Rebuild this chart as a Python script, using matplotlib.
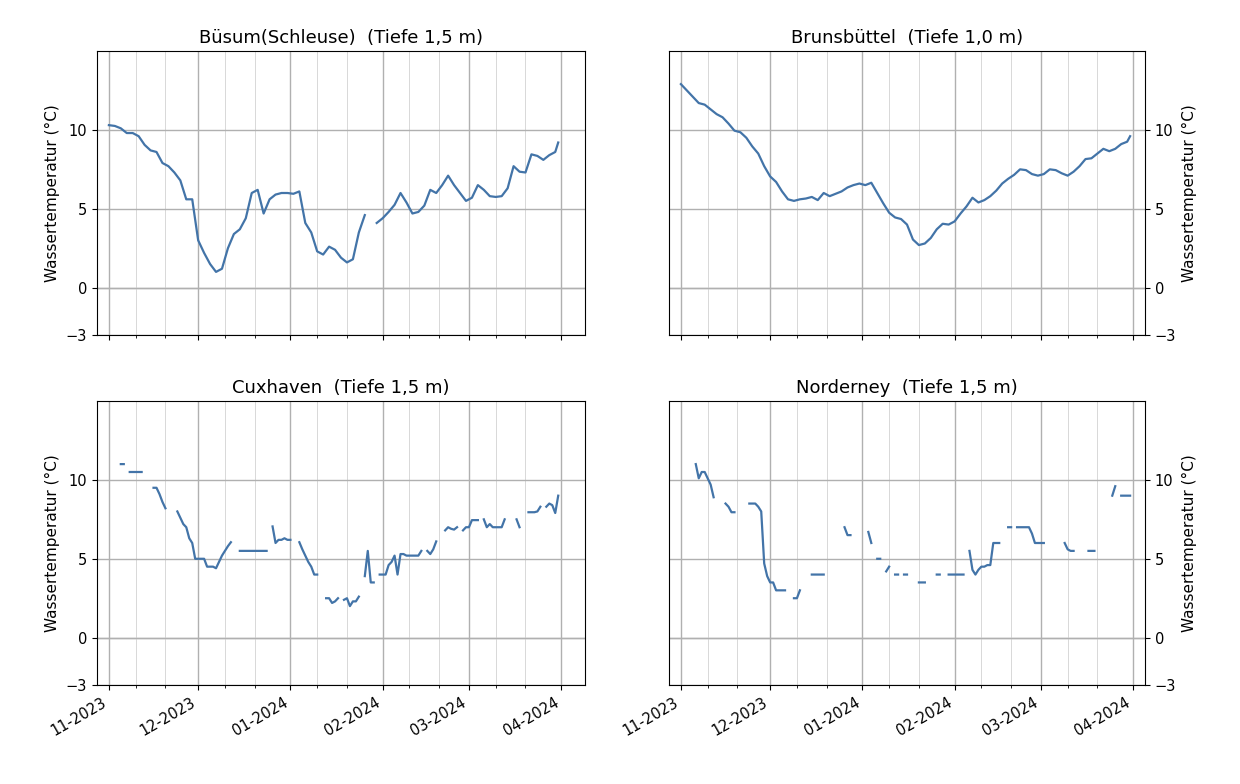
import numpy as np
import pandas as pd
import matplotlib
matplotlib.use("Agg")
import matplotlib.pyplot as plt
import matplotlib.dates as mdates

nan = np.nan
start = pd.Timestamp("2023-11-01")
days_2 = list(range(0, 151, 2)) + [151]
days_1 = list(range(0, 152))

buesum = [10.3, 10.25, 10.1, 9.8, 9.8, 9.6, 9.05, 8.7, 8.6, 7.9, 7.7, 7.3, 6.8, 5.6, 5.6,
          3.0, 2.2, 1.5, 1.0, 1.2, 2.5, 3.4, 3.7, 4.4, 6.0, 6.2, 4.7, 5.6, 5.9, 6.0, 6.0,
          5.95, 6.1, 4.1, 3.5, 2.3, 2.1, 2.6, 2.4, 1.9, 1.6, 1.8, 3.5, 4.6, nan, 4.1, 4.4,
          4.8, 5.25, 6.0, 5.4, 4.7, 4.8, 5.2, 6.2, 6.0, 6.5, 7.1, 6.5, 6.0, 5.5, 5.7, 6.5,
          6.2, 5.8, 5.75, 5.8, 6.3, 7.7, 7.35, 7.3, 8.45, 8.35, 8.1, 8.4, 8.6, 9.2]

brunsbuettel = [12.9, 12.5, 12.1, 11.7, 11.6, 11.3, 11.0, 10.8, 10.4, 9.95, 9.85, 9.5, 8.95,
                8.5, 7.7, 7.05, 6.7, 6.1, 5.6, 5.5, 5.6, 5.65, 5.75, 5.55, 6.0, 5.8, 5.95,
                6.1, 6.35, 6.5, 6.6, 6.5, 6.65, 6.0, 5.35, 4.75, 4.45, 4.35, 4.0, 3.05, 2.7,
                2.8, 3.15, 3.7, 4.05, 4.0, 4.2, 4.7, 5.15, 5.7, 5.4, 5.55, 5.8, 6.15, 6.6,
                6.9, 7.15, 7.5, 7.45, 7.2, 7.1, 7.2, 7.5, 7.45, 7.25, 7.1, 7.35, 7.7, 8.15,
                8.2, 8.5, 8.8, 8.65, 8.8, 9.1, 9.25, 9.6]

cuxhaven = [nan, nan, nan, nan, 11.0, 11.0, nan, 10.5, 10.5, 10.5, 10.5, 10.5, nan, nan, nan,
            9.5, 9.5, 9.1, 8.6, 8.2, nan, nan, nan, 8.0, 7.6, 7.2, 7.0, 6.3, 6.0, 5.0,
            5.0, 5.0, 5.0, 4.5, 4.5, 4.5, 4.4, 4.8, 5.2, 5.5, 5.8, 6.05, nan, nan, 5.5,
            5.5, 5.5, 5.5, 5.5, 5.5, 5.5, 5.5, 5.5, 5.5, nan, 7.05, 6.0, 6.2, 6.2, 6.3,
            6.2, 6.2, nan, nan, 6.05, 5.6, 5.2, 4.8, 4.5, 4.0, 4.0, nan, nan, 2.5, 2.5,
            2.2, 2.3, 2.5, nan, 2.4, 2.5, 2.0, 2.3, 2.3, 2.6, nan, 3.9, 5.5, 3.5, 3.5,
            nan, 4.0, 4.0, 4.0, 4.6, 4.8, 5.2, 4.0, 5.3, 5.3, 5.2, 5.2, 5.2, 5.2, 5.2,
            5.5, nan, 5.5, 5.3, 5.6, 6.1, nan, nan, 6.8, 7.0, 6.9, 6.85, 7.0, nan, 6.8,
            7.0, 7.0, 7.45, 7.45, 7.45, nan, 7.5, 7.0, 7.2, 7.0, 7.0, 7.0, 7.0, 7.5, nan,
            nan, nan, 7.5, 7.0, nan, nan, 7.95, 7.95, 7.95, 8.0, 8.3, nan, 8.3, 8.5, 8.4,
            7.9, 9.0]

norderney = [nan, nan, nan, nan, nan, 11.0, 10.1, 10.5, 10.5, 10.1, 9.7, 8.9, nan, nan, nan,
             8.5, 8.3, 7.95, 7.95, nan, nan, nan, nan, 8.5, 8.5, 8.5, 8.3, 8.0, 4.7, 3.9,
             3.5, 3.5, 3.0, 3.0, 3.0, 3.0, nan, nan, 2.5, 2.5, 3.0, nan, nan, nan, 4.0,
             4.0, 4.0, 4.0, 4.0, nan, nan, nan, nan, nan, nan, 7.0, 6.5, 6.5, nan, nan,
             nan, nan, nan, 6.7, 6.0, nan, 5.0, 5.0, nan, 4.2, 4.5, nan, 4.0, 4.0, nan,
             4.0, 4.0, nan, nan, nan, 3.5, 3.5, 3.5, nan, nan, nan, 4.0, 4.0, nan, nan,
             4.0, 4.0, 4.0, 4.0, 4.0, 4.0, nan, 5.5, 4.3, 4.0, 4.3, 4.5, 4.5, 4.6, 4.6,
             6.0, 6.0, 6.0, nan, nan, 7.0, 7.0, nan, 7.0, 7.0, 7.0, 7.0, 7.0, 6.6, 6.0,
             6.0, 6.0, 6.0, nan, nan, nan, nan, nan, nan, 6.0, 5.6, 5.5, 5.5, nan, nan,
             nan, nan, 5.5, 5.5, 5.5, nan, nan, nan, nan, nan, 9.0, 9.6, nan, 9.0, 9.0,
             9.0, 9.0]

titles = ["Büsum(Schleuse)  (Tiefe 1,5 m)", "Brunsbüttel  (Tiefe 1,0 m)",
          "Cuxhaven  (Tiefe 1,5 m)", "Norderney  (Tiefe 1,5 m)"]
yticks = [-3, 0, 5, 10]

d2 = start + pd.to_timedelta(days_2, unit="D")
d1 = start + pd.to_timedelta(days_1, unit="D")
series = [(d2, buesum), (d2, brunsbuettel), (d1, cuxhaven), (d1, norderney)]

color = "#4374a8"
W, H = 1240.0, 784.0
fig = plt.figure(figsize=(12.4, 7.84), dpi=100)
boxes = [(97, 51, 585, 335), (669, 51, 1145, 335), (97, 401, 585, 685), (669, 401, 1145, 685)]
axes = []
for (x0, y0, x1, y1) in boxes:
    axes.append(fig.add_axes([x0 / W, 1 - y1 / H, (x1 - x0) / W, (y1 - y0) / H]))

for i, ax in enumerate(axes):
    x, y = series[i]
    ax.plot(x, y, color=color, lw=1.6, zorder=3)
    ax.axhline(0, color="#b0b0b0", lw=1.0, zorder=1)
    ax.set_title(titles[i], fontsize=13)
    ax.set_ylim(-3, 15)
    ax.set_yticks(yticks)
    if i % 2 == 0:
        ax.set_xlim(pd.Timestamp("2023-10-28"), pd.Timestamp("2024-04-09"))
    else:
        ax.set_xlim(pd.Timestamp("2023-10-28"), pd.Timestamp("2024-04-05"))
    ax.xaxis.set_major_locator(mdates.MonthLocator())
    ax.xaxis.set_minor_locator(mdates.DayLocator(bymonthday=[10, 20]))
    ax.xaxis.set_major_formatter(mdates.DateFormatter("%m-%Y"))
    ax.grid(True, which="major", color="#b0b0b0", lw=1.0)
    ax.grid(True, which="minor", axis="x", color="#d8d8d8", lw=0.7)
    ax.tick_params(labelsize=10.5)
    if i % 2 == 1:
        ax.yaxis.tick_right()
        ax.yaxis.set_label_position("right")
    ax.set_ylabel("Wassertemperatur (°C)", fontsize=11)
    if i < 2:
        ax.tick_params(labelbottom=False)
    else:
        for lab in ax.get_xticklabels():
            lab.set_rotation(30)
            lab.set_ha("right")

fig.savefig("out.png", dpi=100)
